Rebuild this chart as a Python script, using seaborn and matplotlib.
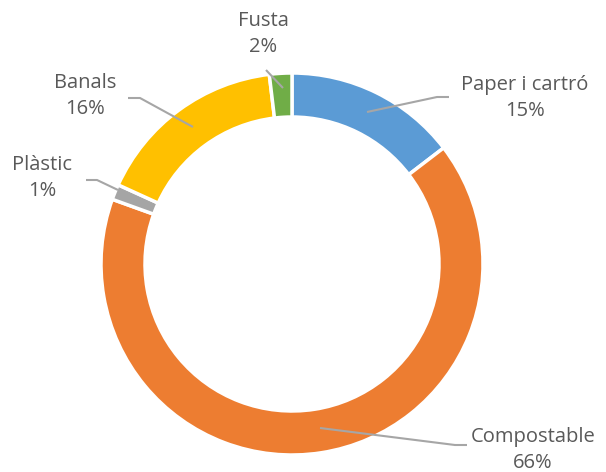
import matplotlib
matplotlib.use("Agg")
import matplotlib.pyplot as plt
import seaborn as sns

categories = ["Paper i cartró", "Compostable", "Plàstic", "Banals", "Fusta"]
values = [14.6, 65.9, 1.3, 16.3, 1.9]
colors = ["#5B9BD5", "#ED7D31", "#A5A5A5", "#FFC000", "#70AD47"]

# label positions (pixel coords, y from top) and leader lines
label_pos = [(525, 98), (533, 450), (42, 178), (85, 96), (263, 34)]
leaders = [
    [(367, 112), (437, 97), (449, 97)],
    [(320, 428), (455, 445), (467, 445)],
    [(118, 190), (97, 180), (86, 180)],
    [(193, 127), (140, 98), (128, 98)],
    [(283, 88), (266, 70)],
]

sns.set_theme(style="white")
plt.rcParams["font.family"] = ["Open Sans", "DejaVu Sans"]

W, H = 606, 472
fig = plt.figure(figsize=(W / 100, H / 100), dpi=100)
ax = fig.add_axes([0, 0, 1, 1])

cx, cy, r = 292, H - 264, 191
ax.pie(values, colors=colors, startangle=90, counterclock=False,
       center=(cx, cy), radius=r,
       wedgeprops=dict(width=44, edgecolor="white", linewidth=2.5))

for (lx, ly), name, v, pts in zip(label_pos, categories, values, leaders):
    xs = [p[0] for p in pts]
    ys = [H - p[1] for p in pts]
    ax.plot(xs, ys, color="#A6A6A6", lw=1.5, solid_capstyle="butt")
    ax.text(lx, H - ly, f"{name}\n{round(v)}%", ha="center", va="center",
            fontsize=14.5, color="#595959", linespacing=1.4)

ax.set_xlim(0, W)
ax.set_ylim(0, H)
ax.set_aspect("equal")
ax.axis("off")

fig.savefig("out.png", dpi=100)
